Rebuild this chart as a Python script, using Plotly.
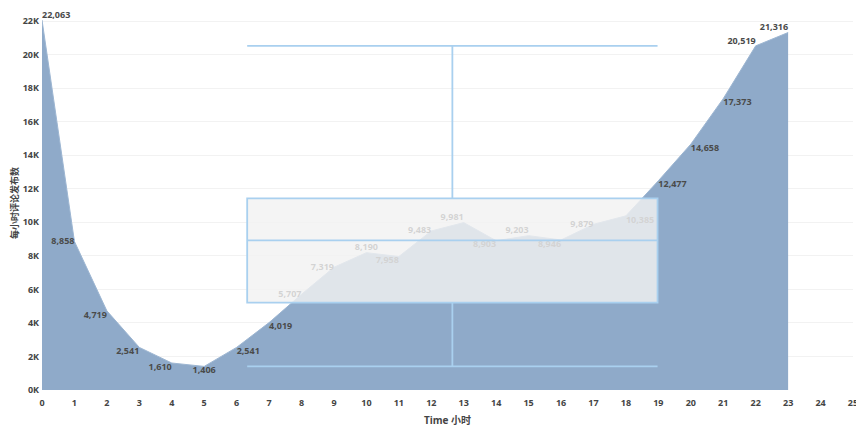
import plotly.graph_objects as go

hours = list(range(24))
comments = [
    22063, 8858, 4719, 2541, 1610, 1406, 2541, 4019, 5707, 7319, 8190, 7958,
    9483, 9981, 8903, 9203, 8946, 9879, 10385, 12477, 14658, 17373, 20519, 21316,
]
y_ticks = list(range(0, 22001, 2000))
y_tick_labels = [f"{v // 1000}K" for v in y_ticks]
x_ticks = list(range(0, 26))

# label placement, picked by eye to match the original
text_pos = [
    "top right", "middle left", "bottom left", "bottom left", "bottom left",
    "bottom center", "bottom right", "bottom right", "middle left", "middle left",
    "top center", "bottom left", "middle left", "top left", "bottom left",
    "top left", "bottom left", "middle left", "bottom right", "bottom right",
    "bottom right", "bottom right", "top left", "top left",
]

font_family = "Open Sans, Noto Sans CJK SC, sans-serif"
x_range = [0, 25]
y_range = [0, 22300]

fig = go.Figure()

fig.add_trace(
    go.Scatter(
        x=hours,
        y=comments,
        mode="lines+text",
        fill="tozeroy",
        fillcolor="#8faac9",
        line=dict(color="#9db6d2", width=1),
        text=[f"{v:,}" for v in comments],
        textposition=text_pos,
        textfont=dict(family=font_family, size=9, color="#4a4a4a", weight="bold"),
        cliponaxis=False,
        showlegend=False,
    )
)

# box sits on an overlay axis so it is drawn above the area;
# outliers kept (but hidden) so the whiskers stop at the 1.5 IQR fences
fig.add_trace(
    go.Box(
        y=comments,
        x0=12.65,
        width=12.65,
        xaxis="x2",
        yaxis="y2",
        quartilemethod="exclusive",
        boxpoints="outliers",
        marker=dict(size=0, opacity=0),
        whiskerwidth=1,
        fillcolor="rgba(241,241,241,0.82)",
        line=dict(color="#a9d0ef", width=1.8),
        showlegend=False,
    )
)

# page body has an 8px margin, so the figure is a bit smaller than the window
fig.update_layout(
    width=856,
    height=424,
    margin=dict(l=34, r=11, t=8, b=42),
    plot_bgcolor="white",
    paper_bgcolor="white",
    font=dict(family=font_family, color="#444444"),
    xaxis=dict(
        range=x_range,
        tickvals=x_ticks,
        automargin=False,
        showgrid=False,
        zeroline=False,
        showline=False,
        ticks="",
        ticklabelstandoff=6,
        tickfont=dict(size=9, color="#444444", weight="bold"),
        title=dict(
            text="Time 小时",
            font=dict(size=10, color="#444444", weight="bold"),
            standoff=8,
        ),
    ),
    yaxis=dict(
        range=y_range,
        tickvals=y_ticks,
        ticktext=y_tick_labels,
        automargin=False,
        showgrid=True,
        gridcolor="#f2f2f2",
        gridwidth=1,
        zeroline=False,
        showline=False,
        ticks="",
        ticklabelstandoff=2,
        tickfont=dict(size=9, color="#444444", weight="bold"),
        title=dict(
            text="每小时评论发布数",
            font=dict(size=9, color="#444444", weight="bold"),
            standoff=5,
        ),
    ),
    xaxis2=dict(range=x_range, overlaying="x", visible=False),
    yaxis2=dict(range=y_range, overlaying="y", visible=False),
)

fig.write_html("out.html")
